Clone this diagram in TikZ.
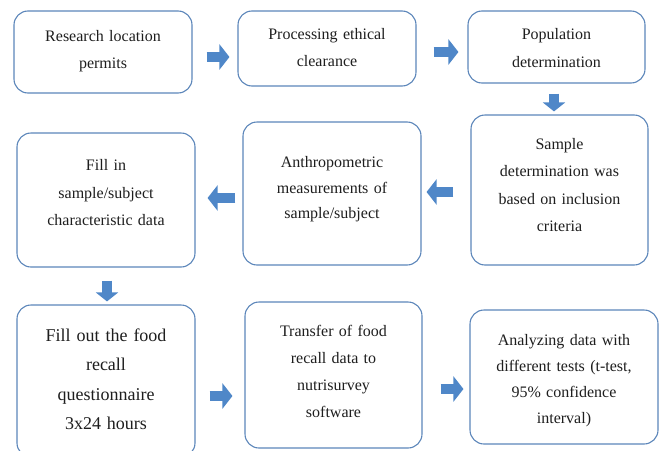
\documentclass[tikz,border=0pt]{standalone}
\usepackage{fontspec}
\setmainfont{Liberation Serif}
\usetikzlibrary{arrows.meta}
\definecolor{boxblue}{RGB}{92,134,186}
\definecolor{arrblue}{RGB}{79,135,200}
\definecolor{txt}{RGB}{30,30,30}
\tikzset{
  flowbox/.style={draw=boxblue, line width=1.1pt, rounded corners=14pt, fill=white, inner sep=0pt},
  boxtext/.style={text=txt, align=center, inner sep=0pt, text width=175pt,
    font=\fontsize{16}{27.5}\selectfont},
  bigtext/.style={boxtext, font=\fontsize{18}{29.5}\selectfont},
  harrow/.style={draw=arrblue, line width=10.5pt, -{Triangle[length=10pt,width=25pt]}},
  varrow/.style={draw=arrblue, line width=10pt, -{Triangle[length=9pt,width=22pt]}}
}
\begin{document}
\begin{tikzpicture}[x=1pt,y=-1pt]
\useasboundingbox (0,0) rectangle (661,450);
\node[flowbox, minimum width=178pt, minimum height=82pt,
  label={[boxtext, yshift=1pt]center:Research location\\permits}] (b1) at (103,52) {};
\node[flowbox, minimum width=178pt, minimum height=75pt,
  label={[boxtext, yshift=1pt]center:Processing ethical\\clearance}] (b2) at (327,48.5) {};
\node[flowbox, minimum width=177pt, minimum height=72pt,
  label={[boxtext, yshift=-1pt]center:Population\\determination}] (b3) at (556.5,47) {};
\node[flowbox, minimum width=177pt, minimum height=150pt,
  label={[boxtext, yshift=5pt]center:Sample\\determination was\\based on inclusion\\criteria}] (b4) at (559.5,190) {};
\node[flowbox, minimum width=178pt, minimum height=143pt,
  label={[boxtext, font=\fontsize{16}{25.5}\selectfont, yshift=4pt]center:Anthropometric\\measurements of\\sample/subject}] (b5) at (332,193.5) {};
\node[flowbox, minimum width=178pt, minimum height=134pt,
  label={[boxtext, yshift=7pt]center:Fill in\\sample/subject\\characteristic data}] (b6) at (106,200) {};
\node[flowbox, minimum width=178pt, minimum height=152pt,
  label={[bigtext, yshift=2pt]center:Fill out the food\\recall\\questionnaire\\3x24 hours}] (b7) at (106,381) {};
\node[flowbox, minimum width=177pt, minimum height=146pt,
  label={[boxtext, font=\fontsize{16}{27}\selectfont, yshift=4pt]center:Transfer of food\\recall data to\\nutrisurvey\\software}] (b8) at (333.5,375) {};
\node[flowbox, minimum width=188pt, minimum height=134pt,
  label={[boxtext, font=\fontsize{16}{26}\selectfont, yshift=-4pt]center:Analyzing data with\\different tests (t-test,\\95\% confidence\\interval)}] (b9) at (564,377) {};

\draw[harrow, shorten <=14pt, shorten >=8pt] ([yshift=-5pt]b1.east) -- ([yshift=-5pt]b1.east -| b2.west);
\draw[harrow, shorten <=17pt, shorten >=9pt] ([yshift=-3.5pt]b2.east) -- ([yshift=-3.5pt]b2.east -| b3.west);
\draw[varrow, shorten <=10pt, shorten >=3pt] ([xshift=-2.5pt]b3.south) -- ([xshift=-2.5pt]b3.south |- b4.north);
\draw[harrow, shorten <=17pt, shorten >=5pt] ([yshift=-2pt]b4.west) -- ([yshift=-2pt]b4.west -| b5.east);
\draw[harrow, shorten <=7pt, shorten >=12pt] ([yshift=-4.5pt]b5.west) -- ([yshift=-4.5pt]b5.west -| b6.east);
\draw[varrow, shorten <=13pt, shorten >=3pt] ([xshift=1pt]b6.south) -- ([xshift=1pt]b6.south |- b7.north);
\draw[harrow, shorten <=14pt, shorten >=12pt] ([yshift=-15pt]b7.east) -- ([yshift=-15pt]b7.east -| b8.west);
\draw[harrow, shorten <=18pt, shorten >=6pt] ([yshift=-14pt]b8.east) -- ([yshift=-14pt]b8.east -| b9.west);
\end{tikzpicture}
\end{document}
